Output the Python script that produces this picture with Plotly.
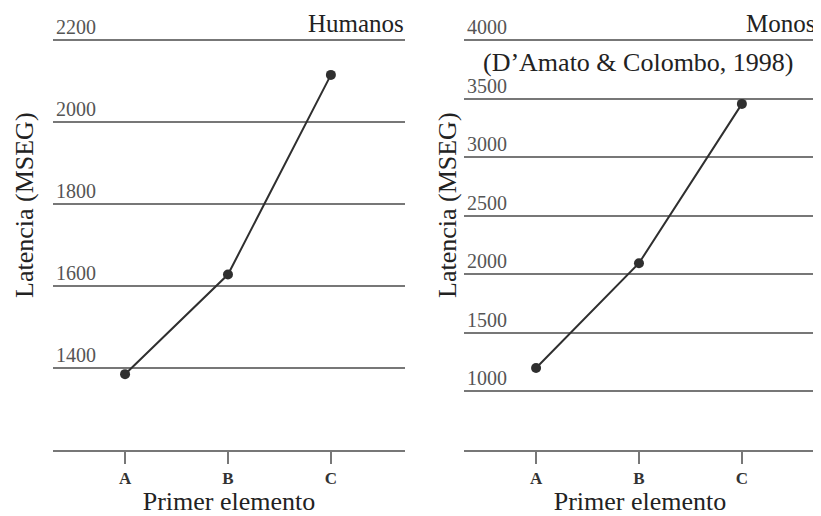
import plotly.graph_objects as go

categories = ["A", "B", "C"]
humanos = [1385, 1628, 2115]
monos = [1200, 2095, 3455]
humanos_ticks = [1400, 1600, 1800, 2000, 2200]
monos_ticks = [1000, 1500, 2000, 2500, 3000, 3500, 4000]

# The page body keeps its default 8px margin, so the figure is drawn 8px in
# from the window edge; size it to fill the rest of the 821x516 window.
OFF = 8
W, H = 821 - OFF, 516 - OFF
FONT = "Liberation Serif, Times New Roman, serif"
GRID = "#777777"
INK = "#2f2f2f"

def px(x):
    return (x - OFF) / W

def py(y):
    return 1 - (y - OFF) / H

fig = go.Figure()
fig.add_trace(go.Scatter(x=categories, y=humanos, mode="lines+markers",
                         line=dict(color=INK, width=2), marker=dict(color=INK, size=10),
                         xaxis="x", yaxis="y", showlegend=False))
fig.add_trace(go.Scatter(x=categories, y=monos, mode="lines+markers",
                         line=dict(color=INK, width=2), marker=dict(color=INK, size=10),
                         xaxis="x2", yaxis="y2", showlegend=False))

xcommon = dict(type="category", categoryorder="array", categoryarray=categories,
               range=[-0.7, 2.72], showgrid=False, zeroline=False, automargin=False,
               showline=True, linecolor=GRID, linewidth=1.8,
               ticks="outside", ticklen=12, tickwidth=1.5, tickcolor=GRID,
               tickfont=dict(family=FONT, size=17, color="#333", weight="bold"),
               title=dict(text="Primer elemento", font=dict(family=FONT, size=26, color="#222"), standoff=0),
               fixedrange=True)
ycommon = dict(showgrid=True, gridcolor=GRID, gridwidth=1.8, zeroline=False, showline=False,
               automargin=False,
               ticks="", ticklabelposition="inside", ticklabelshift=-13, ticklabelstandoff=0,
               ticklabeloverflow="allow",
               tickfont=dict(family=FONT, size=20, color="#555"), fixedrange=True)

ydom = [py(450), py(38)]
fig.update_layout(
    width=W, height=H, margin=dict(l=0, r=0, t=0, b=0, autoexpand=False),
    paper_bgcolor="white", plot_bgcolor="white",
    xaxis=dict(domain=[px(53), px(405)], anchor="y", **xcommon),
    yaxis=dict(domain=ydom, anchor="x", range=[1200, 2205], tickvals=humanos_ticks, **ycommon),
    xaxis2=dict(domain=[px(464), px(816)], anchor="y2", **xcommon),
    yaxis2=dict(domain=ydom, anchor="x2", range=[500, 4017.5], tickvals=monos_ticks, **ycommon),
    annotations=[
        dict(text="Humanos", x=px(406), y=py(OFF), xref="paper", yref="paper",
             xanchor="right", yanchor="top", showarrow=False,
             font=dict(family=FONT, size=25, color="#222")),
        dict(text="Monos", x=px(817), y=py(OFF), xref="paper", yref="paper",
             xanchor="right", yanchor="top", showarrow=False,
             font=dict(family=FONT, size=25, color="#222")),
        dict(text="(D\u2019Amato &amp; Colombo, 1998)", x=px(638), y=py(62), xref="paper", yref="paper",
             xanchor="center", yanchor="middle", showarrow=False,
             font=dict(family=FONT, size=26, color="#222")),
        dict(text="Latencia (MSEG)", x=px(24), y=py(205), xref="paper", yref="paper",
             xanchor="center", yanchor="middle", textangle=-90, showarrow=False,
             font=dict(family=FONT, size=26, color="#222")),
        dict(text="Latencia (MSEG)", x=px(447), y=py(205), xref="paper", yref="paper",
             xanchor="center", yanchor="middle", textangle=-90, showarrow=False,
             font=dict(family=FONT, size=26, color="#222")),
    ],
)

fig.write_html("out.html", config={"displayModeBar": False})
